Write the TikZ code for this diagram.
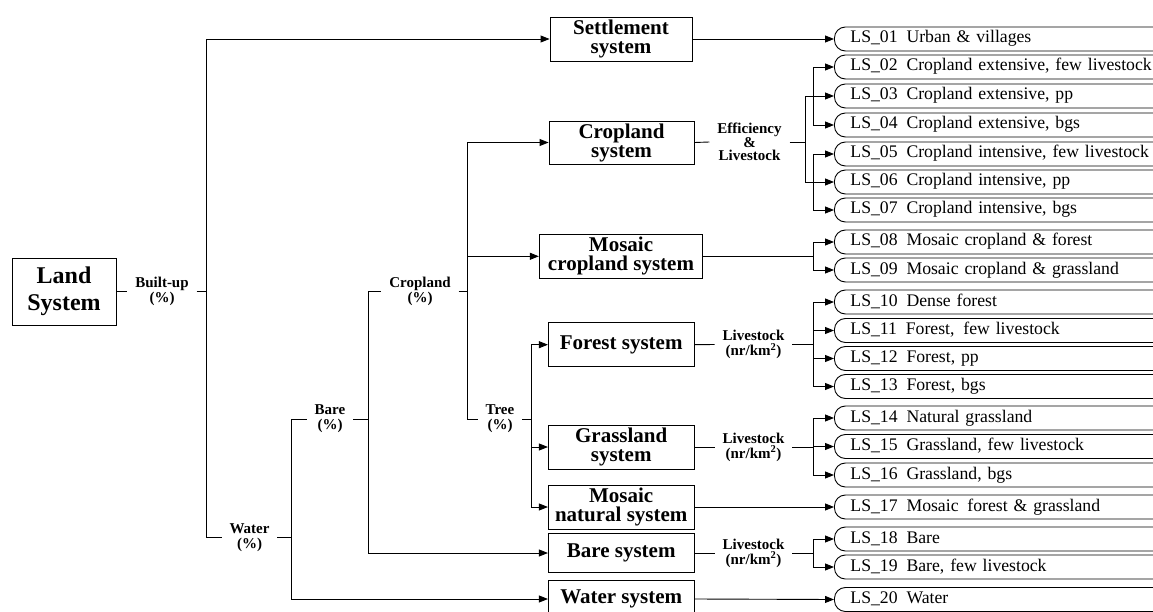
\documentclass[tikz,border=0pt]{standalone}
\usepackage{fontspec}
\setmainfont{Liberation Serif}
\usetikzlibrary{arrows.meta}
\newcommand{\gapsp}{\hspace{0.5em}}
\begin{document}
\begin{tikzpicture}[x=1pt,y=-1pt,
  line width=0.9pt,
  arr/.style={-{Triangle[length=9pt,width=7pt]}},
  sysbox/.style={draw, rectangle, inner sep=0pt, align=center, font=\fontsize{21}{19}\selectfont\bfseries},
  lbl/.style={inner xsep=7.5pt, inner ysep=0pt, align=center, font=\fontsize{15}{15}\selectfont\bfseries},
  leaf/.style={draw, rounded corners=11pt, anchor=west, minimum height=24pt, inner xsep=16pt, inner ysep=0pt,
    text width=330pt, text height=12.5pt, text depth=4.5pt, align=left, font=\fontsize{17.7}{20}\selectfont},
]
\useasboundingbox (0,0) rectangle (1153,612);
\fill[white] (0,0) rectangle (1153,612);

% main tree
\node[sysbox, minimum width=104pt, minimum height=67pt, font=\fontsize{24}{27}\selectfont\bfseries] (land) at (64,291.5) {Land\\System};
\node[lbl] (builtup) at (162,291.5) {Built-up\\(\%)};
\coordinate (j1) at (206,291.5);
\node[lbl] (water) at (249.5,537.5) {Water\\(\%)};
\coordinate (j2) at (291.7,537.5);
\node[lbl] (bare) at (330,419) {Bare\\(\%)};
\coordinate (j3) at (368.5,419);
\node[lbl] (crop) at (420,291.7) {Cropland\\(\%)};
\coordinate (j4) at (467.5,291.7);
\node[lbl] (tree) at (500,419) {Tree\\(\%)};
\coordinate (j5) at (531,419);

% systems
\node[sysbox, minimum width=142pt, minimum height=44pt] (settle) at (621,39) {Settlement\\system};
\node[sysbox, minimum width=145pt, minimum height=43pt] (cropsys) at (621.5,142.5) {Cropland\\system};
\node[sysbox, minimum width=163.4pt, minimum height=44pt] (mosaiccrop) at (621,256.3) {Mosaic\\cropland system};
\node[sysbox, minimum width=145.7pt, minimum height=44pt] (forest) at (621.2,344.7) {Forest system};
\node[sysbox, minimum width=145.7pt, minimum height=44pt] (grass) at (621.2,447) {Grassland\\system};
\node[sysbox, minimum width=145.7pt, minimum height=44pt] (mosaicnat) at (621.2,507) {Mosaic\\natural system};
\node[sysbox, minimum width=145.7pt, minimum height=38.3pt] (baresys) at (621.2,553) {Bare system};
\node[sysbox, minimum width=145.7pt, minimum height=38pt] (watersys) at (621.2,599) {Water system};

% second-level labels
\node[lbl, font=\fontsize{15}{13.5}\selectfont\bfseries] (eff) at (749.5,142) {Efficiency\\\&\\Livestock};
\node[lbl] (ls1) at (753.5,344.5) {Livestock\\(nr/km\textsuperscript{2})};
\node[lbl] (ls2) at (753.5,447) {Livestock\\(nr/km\textsuperscript{2})};
\node[lbl] (ls3) at (753.5,553) {Livestock\\(nr/km\textsuperscript{2})};

% leaves
\node[leaf] (l01) at (834,39) {LS\_01\gapsp Urban \& villages};
\node[leaf] (l02) at (834,67) {LS\_02\gapsp Cropland extensive, few livestock};
\node[leaf] (l03) at (834,96) {LS\_03\gapsp Cropland extensive, pp};
\node[leaf] (l04) at (834,125) {LS\_04\gapsp Cropland extensive, bgs};
\node[leaf] (l05) at (834,154) {LS\_05\gapsp Cropland intensive, few livestock};
\node[leaf] (l06) at (834,182) {LS\_06\gapsp Cropland intensive, pp};
\node[leaf] (l07) at (834,210) {LS\_07\gapsp Cropland intensive, bgs};
\node[leaf] (l08) at (834,242) {LS\_08\gapsp Mosaic cropland \& forest};
\node[leaf] (l09) at (834,270) {LS\_09\gapsp Mosaic cropland \& grassland};
\node[leaf] (l10) at (834,302) {LS\_10\gapsp Dense forest};
\node[leaf] (l11) at (834,330.5) {LS\_11\gapsp Forest,\gapsp few livestock};
\node[leaf] (l12) at (834,358.5) {LS\_12\gapsp Forest, pp};
\node[leaf] (l13) at (834,386.5) {LS\_13\gapsp Forest, bgs};
\node[leaf] (l14) at (834,418) {LS\_14\gapsp Natural grassland};
\node[leaf] (l15) at (834,446.5) {LS\_15\gapsp Grassland, few livestock};
\node[leaf] (l16) at (834,475) {LS\_16\gapsp Grassland, bgs};
\node[leaf] (l17) at (834,507) {LS\_17\gapsp Mosaic\gapsp forest \& grassland};
\node[leaf] (l18) at (834,539) {LS\_18\gapsp Bare};
\node[leaf] (l19) at (834,567) {LS\_19\gapsp Bare, few livestock};
\node[leaf] (l20) at (834,599.5) {LS\_20\gapsp Water};

% junctions right side
\coordinate (j6) at (805,142);
\coordinate (j7) at (813,96);
\coordinate (j8) at (813,182);
\coordinate (j9) at (813,256.3);
\coordinate (j10) at (813,344.5);
\coordinate (j11) at (813,447);
\coordinate (j12) at (813,553);

% connectors: left part
\draw (land.east) -- (builtup.west);
\draw (builtup.east) -- (j1);
\draw[arr] (j1) |- (settle.west);
\draw (j1) |- (water.west);
\draw (water.east) -- (j2);
\draw (j2) |- (bare.west);
\draw[arr] (j2) |- (watersys.west);
\draw (bare.east) -- (j3);
\draw (j3) |- (crop.west);
\draw[arr] (j3) |- (baresys.west);
\draw (crop.east) -- (j4);
\draw[arr] (j4) |- (cropsys.west);
\draw[arr] (j4) |- (mosaiccrop.west);
\draw (j4) |- (tree.west);
\draw (tree.east) -- (j5);
\draw[arr] (j5) |- (forest.west);
\draw[arr] (j5) |- (grass.west);
\draw[arr] (j5) |- (mosaicnat.west);

% connectors: right part
\draw[arr] (settle.east) -- (l01.west);
\draw (cropsys.east) -- (eff.west);
\draw (eff.east) -- (j6);
\draw[arr] (j6) |- (l03.west);
\draw[arr] (j6) |- (l06.west);
\draw[arr] (j7) |- (l02.west);
\draw[arr] (j7) |- (l04.west);
\draw[arr] (j8) |- (l05.west);
\draw[arr] (j8) |- (l07.west);
\draw (mosaiccrop.east) -- (j9);
\draw[arr] (j9) |- (l08.west);
\draw[arr] (j9) |- (l09.west);
\draw (forest.east) -- (ls1.west);
\draw (ls1.east) -- (j10);
\draw[arr] (j10) |- (l10.west);
\draw[arr] (j10) |- (l11.west);
\draw[arr] (j10) |- (l12.west);
\draw[arr] (j10) |- (l13.west);
\draw (grass.east) -- (ls2.west);
\draw (ls2.east) -- (j11);
\draw[arr] (j11) |- (l14.west);
\draw[arr] (j11) |- (l15.west);
\draw[arr] (j11) |- (l16.west);
\draw[arr] (mosaicnat.east) -- (l17.west);
\draw (baresys.east) -- (ls3.west);
\draw (ls3.east) -- (j12);
\draw[arr] (j12) |- (l18.west);
\draw[arr] (j12) |- (l19.west);
\draw[arr] (watersys.east) -- (l20.west);
\end{tikzpicture}
\end{document}
